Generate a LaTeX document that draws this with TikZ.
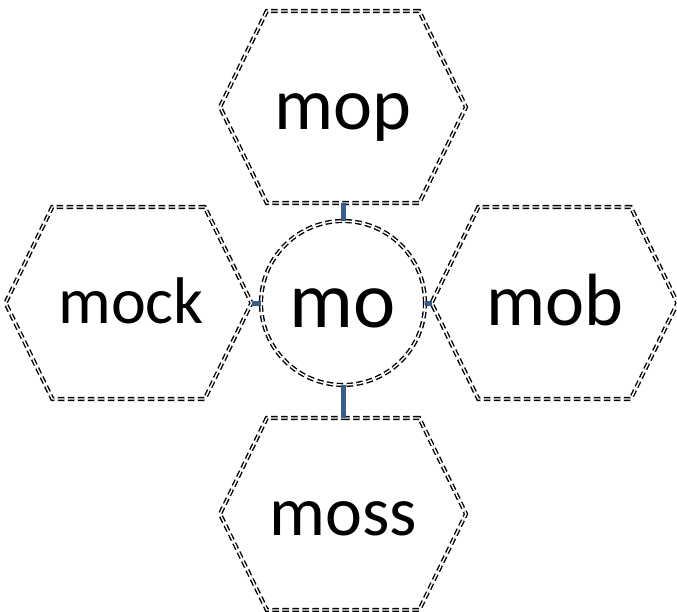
\documentclass[tikz,border=0pt]{standalone}
\usepackage{fontspec}
\setmainfont{Carlito}
\usepackage{tikz}
\usetikzlibrary{shapes.symbols}

\definecolor{linkblue}{RGB}{56,93,138}

\tikzset{
	edge/.style = {draw, line width=1.4pt, double, double distance=1.4pt, dash pattern=on 6.5pt off 3.5pt},
	hexa/.style = {edge, signal, signal to=east and west, signal pointer angle=128, minimum width=246pt, minimum height=192pt, inner sep=0pt, outer sep=0pt},
	ring/.style = {edge, circle, minimum size=164pt, inner sep=0pt, outer sep=0pt},
	word/.style = {font=\fontsize{#1}{#1}\selectfont, anchor=base, inner sep=0pt},
	link/.style = {draw=linkblue, line width=5pt}
}

\begin{document}
\begin{tikzpicture}[x=1pt, y=-1pt]
	\useasboundingbox (0,0) rectangle (677,612);
	\node [hexa] (mop) at (343,107) {};
	\node [hexa] (mock) at (128.5,303) {};
	\node [hexa] (mob) at (554.5,303) {};
	\node [hexa] (moss) at (343,514) {};
	\node [ring] (mo) at (343,303) {};
	\node [word=74] (mopt) at (343,130) {mop};
	\node [word=66] (mockt) at (131,323) {mock};
	\node [word=74] (mobt) at (555,325) {mob};
	\node [word=70] (mosst) at (343,535) {moss};
	\node [word=80] (mot) at (343,327) {mo};
	\draw [link] (mop.south) -- (mo.north);
	\draw [link] (mo.south) -- (moss.north);
	\draw [link] (mock.east) -- (mo.west);
	\draw [link] (mo.east) -- (mob.west);
\end{tikzpicture}
\end{document}
